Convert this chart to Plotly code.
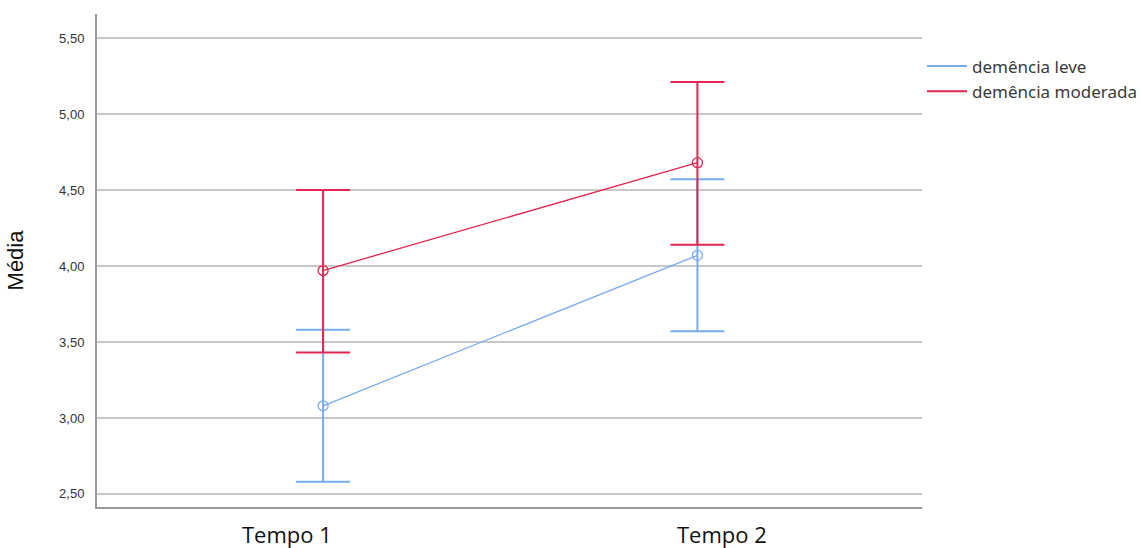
import plotly.graph_objects as go

categories = ["Tempo 1", "Tempo 2"]
leve_mean = [3.08, 4.07]
leve_upper = [3.58, 4.57]
leve_lower = [2.58, 3.57]
mod_mean = [3.97, 4.68]
mod_upper = [4.50, 5.21]
mod_lower = [3.43, 4.14]
yticks = [2.5, 3.0, 3.5, 4.0, 4.5, 5.0, 5.5]
yticklabels = ["2,50", "3,00", "3,50", "4,00", "4,50", "5,00", "5,50"]

BLUE = "#7AAAEE"
RED = "#E2264F"
xpos = [1, 2]
label_pos = [0.2297, 0.757]  # paper positions of the category labels

fig = go.Figure()

def add_series(name, mean, up, lo, color):
    fig.add_trace(go.Scatter(
        x=xpos, y=mean, name=name, mode="lines+markers", showlegend=False,
        line=dict(color=color, width=1.3),
        marker=dict(symbol="circle-open", size=10, color=color, line=dict(width=1.3)),
        error_y=dict(type="data", symmetric=False,
                     array=[u - m for u, m in zip(up, mean)],
                     arrayminus=[m - l for m, l in zip(mean, lo)],
                     color=color, thickness=2, width=27),
    ))
    fig.add_trace(go.Scatter(
        x=[None], y=[None], name=name, mode="lines",
        line=dict(color=color, width=2),
    ))

add_series("demência leve", leve_mean, leve_upper, leve_lower, BLUE)
add_series("demência moderada", mod_mean, mod_upper, mod_lower, RED)

for cat, px in zip(categories, label_pos):
    fig.add_annotation(text=cat, x=px, xref="paper", y=0, yref="paper",
                       xanchor="center", yanchor="middle", yshift=-27, showarrow=False,
                       font=dict(size=22, family="Open Sans, sans-serif", color="#111"))

fig.update_layout(
    width=1141, height=548,
    margin=dict(l=97, r=219, t=14, b=41, autoexpand=False),
    paper_bgcolor="white", plot_bgcolor="white",
    font=dict(family="Liberation Sans, Arial, sans-serif", color="#333"),
    legend=dict(x=1.0, xanchor="left", y=0.93, yanchor="top",
                font=dict(size=17, family="Noto Sans, sans-serif", color="#3a3a3a"),
                tracegroupgap=0, itemwidth=40, bgcolor="rgba(0,0,0,0)"),
    xaxis=dict(range=[0.396, 2.60], tickvals=xpos, showticklabels=False,
               showgrid=False, zeroline=False, showline=True, automargin=False,
               linecolor="#999", linewidth=2, ticks=""),
    yaxis=dict(range=[2.414, 5.658], tickvals=yticks, ticktext=yticklabels,
               showgrid=True, gridcolor="#C8C8C8", gridwidth=1.5, zeroline=False,
               showline=True, linecolor="#999", linewidth=2, automargin=False,
               ticks="outside", ticklen=8, tickcolor="rgba(0,0,0,0)",
               tickfont=dict(size=13, color="#333"),
               title=dict(text="Média", font=dict(size=22, family="Liberation Sans, Arial, sans-serif", color="#111"), standoff=29)),
)

fig.write_html("out.html", config={"displayModeBar": False},
               post_script="document.body.style.margin='0';document.body.style.overflow='hidden';")
